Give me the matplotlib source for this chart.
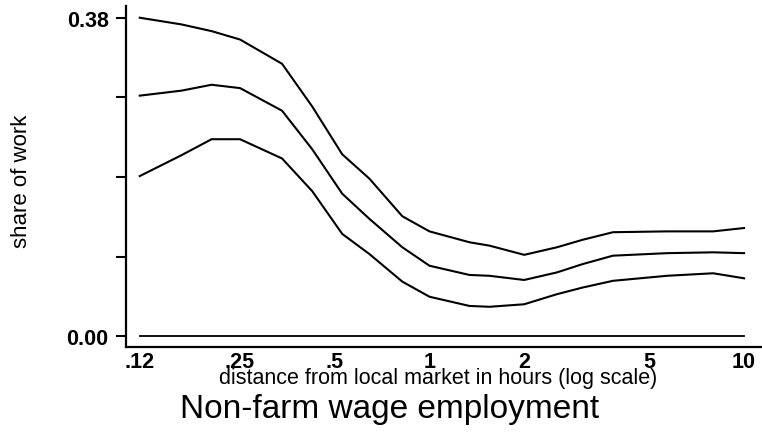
import numpy as np
import matplotlib.pyplot as plt
from matplotlib.ticker import NullLocator, FixedLocator, FixedFormatter

# distance from local market (hours)
hours = [0.12, 0.163, 0.203, 0.25, 0.34, 0.424, 0.528, 0.644, 0.82, 1.0,
         1.34, 1.55, 2.0, 2.54, 3.07, 3.83, 5.69, 7.97, 10.0]

upper = [0.380, 0.372, 0.364, 0.354, 0.325, 0.274, 0.217, 0.188, 0.143, 0.125,
         0.112, 0.108, 0.097, 0.106, 0.115, 0.124, 0.125, 0.125, 0.129]
share = [0.287, 0.293, 0.300, 0.296, 0.269, 0.223, 0.170, 0.140, 0.106, 0.084,
         0.073, 0.072, 0.067, 0.076, 0.086, 0.096, 0.099, 0.100, 0.099]
lower = [0.191, 0.216, 0.235, 0.235, 0.212, 0.173, 0.122, 0.098, 0.065, 0.047,
         0.036, 0.035, 0.038, 0.050, 0.058, 0.066, 0.072, 0.075, 0.069]

xticks = [0.12, 0.25, 0.5, 1, 2, 5, 10]
xticklabels = ['.12', '.25', '.5', '1', '2', '5', '10']
yticks = [0.0, 0.095, 0.19, 0.285, 0.38]
yticklabels = ['0.00', '', '', '', '0.38']

fig = plt.figure(figsize=(7.62, 4.35), dpi=100)
ax = fig.add_axes([126 / 762, 1 - 348 / 435, 1 - 126 / 762, 341 / 435])

for s in (upper, share, lower):
    ax.plot(hours, s, color='black', lw=1.5)
ax.plot([hours[0], hours[-1]], [0, 0], color='black', lw=1.3)

ax.set_xscale('log')
ax.set_xlim(0.1085, 11.4)
ax.set_ylim(-0.013, 0.394)

ax.xaxis.set_major_locator(FixedLocator(xticks))
ax.xaxis.set_major_formatter(FixedFormatter(xticklabels))
ax.xaxis.set_minor_locator(NullLocator())
ax.set_yticks(yticks)
ax.set_yticklabels(yticklabels)

tickfont = dict(family='Liberation Sans', weight='bold', size=15.5)
for lab in ax.get_xticklabels() + ax.get_yticklabels():
    lab.set_fontproperties(tickfont)
ax.tick_params(axis='x', length=0, pad=3)
ax.tick_params(axis='y', length=7.5, width=1.5, pad=5, direction='out')

for side in ('top', 'right'):
    ax.spines[side].set_visible(False)
for side in ('left', 'bottom'):
    ax.spines[side].set_linewidth(1.6)

ax.set_ylabel('share of work', family='Liberation Sans', size=16)
ax.yaxis.set_label_coords(-0.148, 0.49)
ax.set_xlabel('distance from local market in hours (log scale)',
              family='Liberation Sans', size=15.5)
ax.xaxis.set_label_coords(0.49, -0.06)

fig.text(390 / 762, 1 - 410 / 435, 'Non-farm wage employment',
         family='Liberation Sans', size=24, ha='center', va='center')

fig.savefig('out.png', dpi=100)
